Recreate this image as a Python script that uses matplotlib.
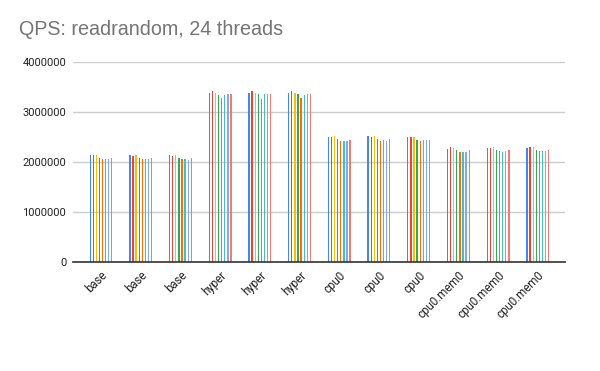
import matplotlib
matplotlib.use("Agg")
import matplotlib.pyplot as plt
import numpy as np

categories = ["base", "base", "base", "hyper", "hyper", "hyper",
              "cpu0", "cpu0", "cpu0", "cpu0.mem0", "cpu0.mem0", "cpu0.mem0"]

# values per series (8 series), one per category
s1 = [2146000, 2146000, 2146000, 3386000, 3386000, 3386000, 2506000, 2526000, 2506000, 2266000, 2286000, 2286000]
s2 = [2146000, 2126000, 2126000, 3426000, 3426000, 3426000, 2506000, 2506000, 2506000, 2306000, 2286000, 2306000]
s3 = [2146000, 2146000, 2146000, 3386000, 3386000, 3386000, 2526000, 2526000, 2506000, 2286000, 2306000, 2306000]
s4 = [2086000, 2086000, 2086000, 3346000, 3366000, 3366000, 2466000, 2466000, 2446000, 2246000, 2246000, 2246000]
s5 = [2066000, 2066000, 2066000, 3286000, 3266000, 3286000, 2426000, 2426000, 2426000, 2206000, 2226000, 2226000]
s6 = [2066000, 2066000, 2066000, 3346000, 3366000, 3346000, 2426000, 2446000, 2446000, 2206000, 2206000, 2226000]
s7 = [2066000, 2066000, 2046000, 3366000, 3366000, 3366000, 2426000, 2426000, 2446000, 2206000, 2226000, 2226000]
s8 = [2086000, 2086000, 2086000, 3366000, 3366000, 3366000, 2446000, 2466000, 2446000, 2246000, 2246000, 2246000]
series = [s1, s2, s3, s4, s5, s6, s7, s8]
colors = ["#4285F4", "#EA4335", "#FBBC04", "#34A853", "#FF6D01", "#46BDC6", "#7BAAF7", "#F07B72"]

yticks = [0, 1000000, 2000000, 3000000, 4000000]

fig = plt.figure(figsize=(6, 3.71), dpi=100)
ax = fig.add_axes([0.122, 0.294, 0.820, 0.539])

x = np.arange(len(categories))
slot = 0.078
bw = 0.032
n = len(series)
for i, (vals, c) in enumerate(zip(series, colors)):
    ax.bar(x + (i - (n - 1) / 2) * slot, vals, width=bw, color=c, zorder=3)

ax.set_xlim(-0.7, len(categories) - 0.31)
ax.set_ylim(0, 4000000)
ax.set_yticks(yticks)
ax.set_yticklabels([str(v) for v in yticks], fontsize=8, color="#222222", family="Roboto")
ax.set_xticks(x)
ax.set_xticklabels(categories, rotation=45, ha="right", rotation_mode="anchor",
                   fontsize=8.3, color="#222222", family="Roboto")
ax.tick_params(axis="both", length=0, pad=5)
ax.grid(axis="y", color="#cccccc", linewidth=1, zorder=0)
for sp in ["top", "right", "left"]:
    ax.spines[sp].set_visible(False)
ax.spines["bottom"].set_color("#333333")
ax.spines["bottom"].set_linewidth(1.2)
ax.spines["bottom"].set_zorder(4)

fig.text(0.031, 0.905, "QPS: readrandom, 24 threads", fontsize=14.2, color="#757575",
         family="Liberation Sans", ha="left", va="baseline")

fig.savefig("out.png", dpi=100, facecolor="white")
